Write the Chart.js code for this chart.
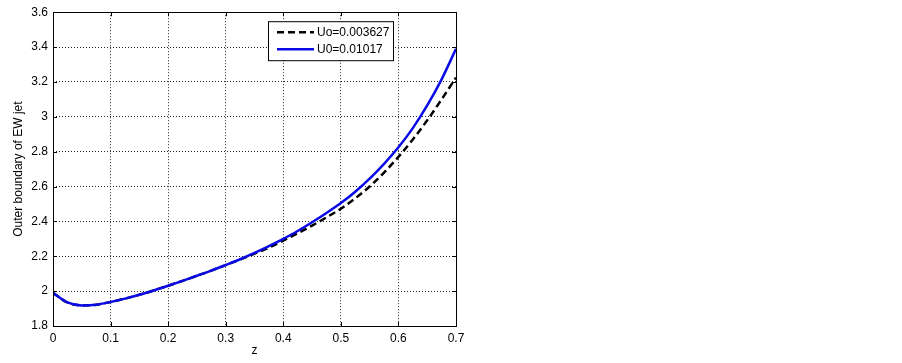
<!DOCTYPE html>
<html>
<head>
<meta charset="utf-8">
<script src="https://cdn.jsdelivr.net/npm/chart.js@4.4.1/dist/chart.umd.min.js"></script>
<style>
  html, body { margin: 0; padding: 0; background: #fff; }
  #wrap { width: 902px; height: 363px; }
</style>
</head>
<body>
<div id="wrap"><canvas id="c" width="902" height="363"></canvas></div>
<script>
// ---- data ----
const zValues = [0, 0.025, 0.05, 0.075, 0.1, 0.125, 0.15, 0.175, 0.2, 0.225, 0.25, 0.275, 0.3, 0.325,
                 0.35, 0.375, 0.4, 0.425, 0.45, 0.475, 0.5, 0.525, 0.55, 0.575, 0.6, 0.625, 0.65, 0.675, 0.7];
const seriesBlack = [1.99, 1.935, 1.918, 1.922, 1.938, 1.957, 1.979, 2.004, 2.031, 2.059, 2.088, 2.118, 2.149, 2.181,
                     2.215, 2.25, 2.29, 2.332, 2.376, 2.423, 2.473, 2.532, 2.60, 2.68, 2.77, 2.87, 2.98, 3.10, 3.225];
const seriesBlue  = [1.99, 1.935, 1.918, 1.922, 1.938, 1.957, 1.979, 2.004, 2.031, 2.059, 2.088, 2.118, 2.15, 2.183,
                     2.219, 2.258, 2.30, 2.345, 2.395, 2.448, 2.505, 2.57, 2.645, 2.73, 2.825, 2.935, 3.065, 3.215, 3.39];
const labelBlack = 'Uo=0.003627';
const labelBlue = 'U0=0.01017';
const xTitle = 'z';
const yTitle = 'Outer boundary of EW jet';
const xRange = [0, 0.7];
const yRange = [1.8, 3.6];

const FONT = "'Liberation Sans', Arial, Helvetica, sans-serif";

const toPts = (ys) => zValues.map((z, i) => ({ x: z, y: ys[i] }));

const bgPlugin = {
  id: 'bg',
  beforeDraw(chart) {
    const ctx = chart.ctx;
    ctx.save();
    ctx.fillStyle = '#fff';
    ctx.fillRect(0, 0, chart.width, chart.height);
    ctx.restore();
  }
};

const framePlugin = {
  id: 'frame',
  afterDraw(chart) {
    const { ctx, chartArea: a, scales } = chart;
    ctx.save();
    ctx.strokeStyle = '#000';
    ctx.lineWidth = 1;
    // inward tick marks
    const tl = 4;
    ctx.beginPath();
    scales.x.ticks.forEach(t => {
      const px = Math.round(scales.x.getPixelForValue(t.value)) + 0.5;
      ctx.moveTo(px, a.bottom); ctx.lineTo(px, a.bottom - tl);
      ctx.moveTo(px, a.top); ctx.lineTo(px, a.top + tl);
    });
    scales.y.ticks.forEach(t => {
      const py = Math.round(scales.y.getPixelForValue(t.value)) + 0.5;
      ctx.moveTo(a.left, py); ctx.lineTo(a.left + tl, py);
      ctx.moveTo(a.right, py); ctx.lineTo(a.right - tl, py);
    });
    ctx.stroke();
    // box
    ctx.strokeRect(Math.round(a.left) + 0.5, Math.round(a.top) + 0.5,
                   Math.round(a.right - a.left), Math.round(a.bottom - a.top));

    // legend box
    const lx = a.left + 215, ly = a.top + 9, lw = 125, lh = 39;
    ctx.fillStyle = '#fff';
    ctx.fillRect(lx, ly, lw, lh);
    ctx.strokeStyle = '#000';
    ctx.strokeRect(lx + 0.5, ly + 0.5, lw, lh);
    const ds = chart.data.datasets;
    const rows = [ds[0], ds[1]];
    rows.forEach((d, i) => {
      const cy = ly + 11 + i * 17;
      ctx.save();
      ctx.strokeStyle = d.borderColor;
      ctx.lineWidth = d.borderWidth;
      ctx.setLineDash(d.borderDash || []);
      ctx.beginPath();
      ctx.moveTo(lx + 9, cy);
      ctx.lineTo(lx + 46, cy);
      ctx.stroke();
      ctx.restore();
      ctx.fillStyle = '#000';
      ctx.font = '12px ' + FONT;
      ctx.textBaseline = 'middle';
      ctx.textAlign = 'left';
      ctx.fillText(d.label, lx + 49, cy + 0.5);
    });
    ctx.restore();
  }
};

const numFmt = (v) => String(Number(Number(v).toFixed(1)));

new Chart(document.getElementById('c'), {
  type: 'line',
  data: {
    datasets: [
      {
        label: labelBlack,
        data: toPts(seriesBlack),
        borderColor: '#000000',
        borderWidth: 2.5,
        borderDash: [7, 4],
        pointRadius: 0,
        cubicInterpolationMode: 'monotone',
        fill: false,
        order: 2
      },
      {
        label: labelBlue,
        data: toPts(seriesBlue),
        borderColor: '#0a0ae6',
        borderWidth: 2.5,
        pointRadius: 0,
        cubicInterpolationMode: 'monotone',
        fill: false,
        order: 1
      }
    ]
  },
  options: {
    responsive: false,
    animation: false,
    devicePixelRatio: 1,
    layout: { padding: { top: 9, right: 446, left: 0, bottom: 0 } },
    plugins: {
      legend: { display: false },
      tooltip: { enabled: false }
    },
    scales: {
      x: {
        type: 'linear',
        min: xRange[0], max: xRange[1],
        afterFit(s) { s.height = 37; },
        grid: { color: 'rgba(0,0,0,0.85)', drawTicks: false, lineWidth: 1 },
        border: { display: false, dash: [1, 2] },
        ticks: {
          stepSize: 0.1, padding: 5, color: '#000',
          font: { family: FONT, size: 12 },
          maxRotation: 0,
          callback: numFmt
        },
        title: {
          display: true, text: xTitle, color: '#000',
          font: { family: FONT, size: 12 },
          padding: { top: 0, bottom: 5 }
        }
      },
      y: {
        type: 'linear',
        min: yRange[0], max: yRange[1],
        afterFit(s) { s.width = 53; },
        grid: { color: 'rgba(0,0,0,0.85)', drawTicks: false, lineWidth: 1 },
        border: { display: false, dash: [1, 2] },
        ticks: {
          stepSize: 0.2, padding: 5, color: '#000',
          font: { family: FONT, size: 12 },
          callback: numFmt
        },
        title: {
          display: true, text: yTitle, color: '#000',
          font: { family: FONT, size: 12 },
          padding: { top: 11, bottom: 0 }
        }
      }
    }
  },
  plugins: [bgPlugin, framePlugin]
});
</script>
</body>
</html>
